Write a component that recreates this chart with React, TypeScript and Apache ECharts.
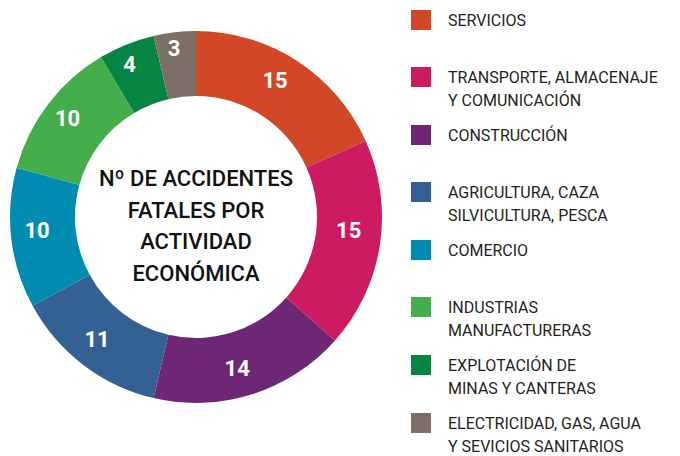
import React, { useEffect, useRef } from 'react';
import * as echarts from 'echarts';

const categories: string[] = [
  'SERVICIOS',
  'TRANSPORTE, ALMACENAJE\nY COMUNICACIÓN',
  'CONSTRUCCIÓN',
  'AGRICULTURA, CAZA\nSILVICULTURA, PESCA',
  'COMERCIO',
  'INDUSTRIAS\nMANUFACTURERAS',
  'EXPLOTACIÓN DE\nMINAS Y CANTERAS',
  'ELECTRICIDAD, GAS, AGUA\nY SEVICIOS SANITARIOS',
];
const values: number[] = [15, 15, 14, 11, 10, 10, 4, 3];
const colors: string[] = ['#D24827', '#CC1B60', '#6E2774', '#336193', '#008CB0', '#44AE4C', '#058541', '#7C6F67'];
const centerTitle: string[] = ['Nº DE ACCIDENTES', 'FATALES POR', 'ACTIVIDAD', 'ECONÓMICA'];

// layout only
const legendIconCenters = [20, 77, 135, 192, 250, 307, 365, 423];
const labelNudges: [number, number][] = [
  [-6, -5], [-2, -10], [-6, 2], [-4, -2], [-3.5, -4.5], [-4, -4], [-8, -7], [-4, -13],
];

export default function App() {
  const ref = useRef<HTMLDivElement>(null);
  useEffect(() => {
    document.body.style.margin = '0';
    const chart = echarts.init(ref.current!, null, { renderer: 'svg' });
    const legends = categories.map((name, i) => {
      const multi = name.indexOf('\n') >= 0;
      return {
        orient: 'vertical',
        left: 411,
        top: legendIconCenters[i] - (multi ? 34.5 : 11.5),
        padding: 0,
        itemWidth: 20,
        itemHeight: 20,
        icon: 'rect',
        selectedMode: false,
        data: [name],
        formatter: multi ? '\n{name}' : '{name}',
        textStyle: {
          fontFamily: 'Roboto',
          fontSize: 16,
          color: '#231F20',
          lineHeight: 23,
          padding: [0, 0, 0, 12],
        },
      };
    });
    chart.setOption({
      animation: false,
      legend: legends,
      graphic: [
        {
          type: 'text',
          x: 196,
          y: 226,
          style: {
            text: centerTitle.join('\n'),
            align: 'center',
            verticalAlign: 'middle',
            fontFamily: 'Roboto',
            fontSize: 22,
            fontWeight: 500,
            lineHeight: 31.7,
            fill: '#111',
          },
        },
      ],
      series: [
        {
          type: 'pie',
          center: [196, 217],
          radius: [121, 186],
          startAngle: 90,
          clockwise: true,
          emphasis: { disabled: true },
          label: {
            show: true,
            position: 'inside',
            formatter: '{c}',
            color: '#fff',
            fontFamily: 'Roboto',
            fontSize: 22,
            fontWeight: 'bold',
          },
          labelLine: { show: false },
          data: categories.map((name, i) => ({
            name,
            value: values[i],
            itemStyle: { color: colors[i] },
            label: { offset: labelNudges[i] },
          })),
        },
      ],
    });
    return () => chart.dispose();
  }, []);
  return <div ref={ref} style={{ width: 680, height: 456 }} />;
}
